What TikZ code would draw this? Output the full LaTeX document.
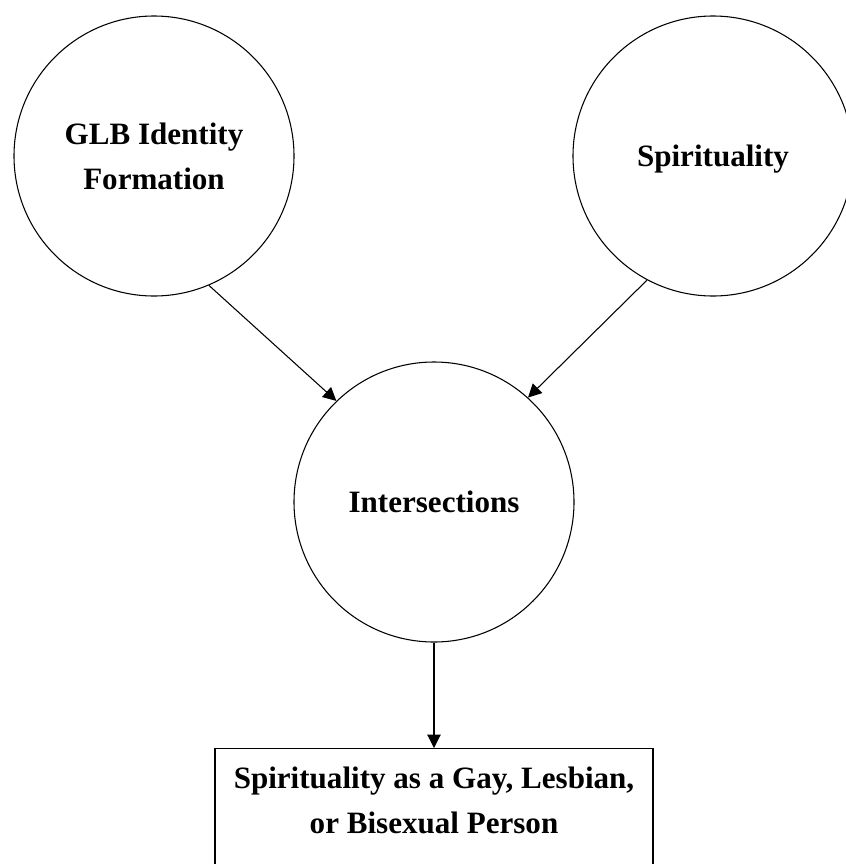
\documentclass[tikz,border=0pt]{standalone}
\usepackage{fontspec}
\setmainfont{Liberation Serif}
\usetikzlibrary{arrows.meta}

\begin{document}
\begin{tikzpicture}[x=0.75pt, y=-0.75pt,
    bubble/.style={draw, circle, line width=0.8pt, minimum size=210pt, inner sep=0pt, align=center,
        text depth=0pt, font=\bfseries\fontsize{23.3}{33.75}\selectfont},
    outbox/.style={draw, rectangle, line width=0.8pt, minimum width=328.5pt, inner xsep=0pt, inner ysep=14pt,
        align=center, font=\bfseries\fontsize{23.3}{33.75}\selectfont},
    link/.style={line width=0.8pt, -{Triangle[length=10pt, width=10pt]}}]
    \clip (0,0) rectangle (846,864);
    % nodes
    \node[bubble] (glb) at (154,156) {GLB Identity\\Formation};
    \node[bubble] (spirit) at (713,156) {Spirituality};
    \node[bubble] (inter) at (434,502) {Intersections};
    \node[outbox, anchor=north] (outcome) at (434,748) {Spirituality as a Gay, Lesbian,\\or Bisexual Person\\\mbox{}};
    % edges
    \draw[link] (glb.-67) -- (inter.134);
    \draw[link] (spirit.-118) -- (inter.48);
    \draw[link] (inter.south) -- (outcome.north);
\end{tikzpicture}
\end{document}
